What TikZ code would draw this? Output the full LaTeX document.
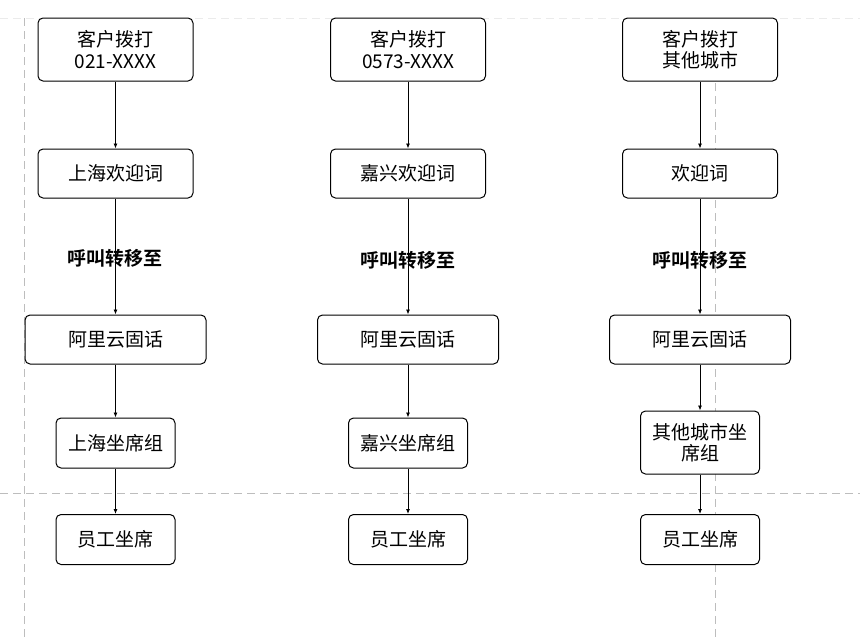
\documentclass[tikz,border=0pt]{standalone}
\usepackage{fontspec}
\usepackage{tikz}
\usetikzlibrary{arrows.meta}
\usetikzlibrary{positioning}
\setmainfont{Noto Sans CJK SC}[BoldFont={Noto Sans CJK SC Bold}]
\definecolor{fl-line}{HTML}{000000}
\definecolor{fl-guide}{HTML}{BDBDBD}
\definecolor{fl-guidelight}{HTML}{EBEBEB}

\tikzset{
    stepbox/.style={draw=fl-line, line width=1pt, rounded corners=5pt, fill=white,
        align=center, inner sep=0pt, font=\fontsize{19}{21.5}\selectfont},
    callbox/.style={stepbox, minimum width=155pt, minimum height=63pt},
    greetbox/.style={stepbox, minimum width=155pt, minimum height=49pt},
    linebox/.style={stepbox, minimum width=181pt, minimum height=49pt},
    groupbox/.style={stepbox, minimum width=119pt, minimum height=50pt},
    flow/.style={->, draw=fl-line, line width=0.8pt},
    guide/.style={dashed, dash pattern=on 8pt off 5pt, fl-guide, line width=1pt},
    transfer/.style={font=\fontsize{19}{23}\selectfont\bfseries}
}

\begin{document}
\begin{tikzpicture}[x=1pt, y=-1pt, >={Latex[length=5pt,width=4pt]}]

    \useasboundingbox (0,0) rectangle (860,640);

    % --- LINHAS-GUIA DA PÁGINA ---
    \draw[guide, fl-guidelight] (0,18) -- (860,18);
    \draw[guide] (24,18) -- (24,640);
    \draw[guide] (715,18) -- (715,640);
    \draw[guide] (0,493) -- (860,493);

    % --- COLUNA 1: XANGAI ---
    \node[callbox] (sh-call) at (115.5,49.5) {客户拨打\\021-XXXX};
    \node[greetbox] (sh-welcome) at (115.5,173.5) {上海欢迎词};
    \node[linebox] (sh-ali) at (115.5,339.5) {阿里云固话};
    \node[groupbox] (sh-group) at (115.5,443) {上海坐席组};
    \node[groupbox] (sh-staff) at (115.5,539.5) {员工坐席};
    \node[transfer] (sh-label) at (115,258) {呼叫转移至};

    % --- COLUNA 2: JIAXING ---
    \node[callbox] (jx-call) at (408,49.5) {客户拨打\\0573-XXXX};
    \node[greetbox] (jx-welcome) at (408,173.5) {嘉兴欢迎词};
    \node[linebox] (jx-ali) at (408,339.5) {阿里云固话};
    \node[groupbox] (jx-group) at (408,443) {嘉兴坐席组};
    \node[groupbox] (jx-staff) at (408,539.5) {员工坐席};
    \node[transfer] (jx-label) at (408,260) {呼叫转移至};

    % --- COLUNA 3: OUTRAS CIDADES ---
    \node[callbox] (qt-call) at (700,49.5) {客户拨打\\其他城市};
    \node[greetbox] (qt-welcome) at (700,173.5) {欢迎词};
    \node[linebox] (qt-ali) at (700,339.5) {阿里云固话};
    \node[groupbox, minimum height=63pt] (qt-group) at (700,442.5) {其他城市坐\\席组};
    \node[groupbox] (qt-staff) at (700,539.5) {员工坐席};
    \node[transfer] (qt-label) at (700,260) {呼叫转移至};

    % --- SETAS DO FLUXO ---
    \draw[flow] (sh-call) -- (sh-welcome);
    \draw[flow] (sh-welcome) -- (sh-ali);
    \draw[flow] (sh-ali) -- (sh-group);
    \draw[flow] (sh-group) -- (sh-staff);

    \draw[flow] (jx-call) -- (jx-welcome);
    \draw[flow] (jx-welcome) -- (jx-ali);
    \draw[flow] (jx-ali) -- (jx-group);
    \draw[flow] (jx-group) -- (jx-staff);

    \draw[flow] (qt-call) -- (qt-welcome);
    \draw[flow] (qt-welcome) -- (qt-ali);
    \draw[flow] (qt-ali) -- (qt-group);
    \draw[flow] (qt-group) -- (qt-staff);

\end{tikzpicture}
\end{document}
